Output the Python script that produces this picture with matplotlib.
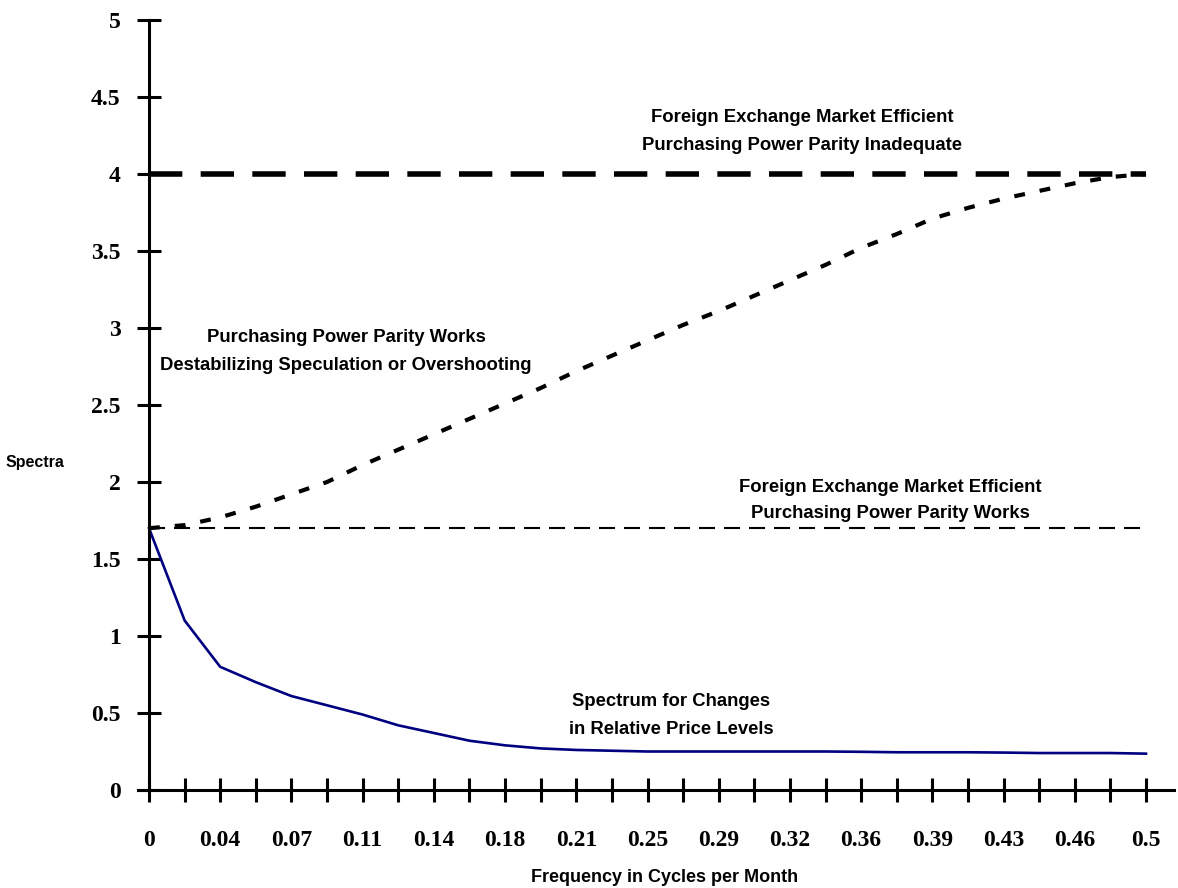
import matplotlib
matplotlib.use("Agg")
import matplotlib.pyplot as plt

# ---- data ----
freq = [0.0, 0.0179, 0.0357, 0.0536, 0.0714, 0.0893, 0.1071, 0.125, 0.1429,
        0.1607, 0.1786, 0.1964, 0.2143, 0.2321, 0.25, 0.2679, 0.2857, 0.3036,
        0.3214, 0.3393, 0.3571, 0.375, 0.3929, 0.4107, 0.4286, 0.4464, 0.4643,
        0.4821, 0.5]
tick_labels = ['0', '', '0.04', '', '0.07', '', '0.11', '', '0.14', '', '0.18', '',
               '0.21', '', '0.25', '', '0.29', '', '0.32', '', '0.36', '', '0.39', '',
               '0.43', '', '0.46', '', '0.5']
relative_price = [1.70, 1.10, 0.80, 0.70, 0.61, 0.55, 0.49, 0.42, 0.37, 0.32, 0.29,
                  0.27, 0.26, 0.255, 0.25, 0.25, 0.25, 0.25, 0.25, 0.25, 0.248,
                  0.245, 0.245, 0.245, 0.243, 0.24, 0.24, 0.24, 0.236]
overshooting = [1.70, 1.72, 1.77, 1.84, 1.92, 2.00, 2.11, 2.21, 2.31, 2.41, 2.51,
                2.61, 2.72, 2.82, 2.92, 3.02, 3.11, 3.21, 3.31, 3.41, 3.52, 3.61,
                3.71, 3.78, 3.84, 3.89, 3.94, 3.98, 4.00]
ppp_works_level = 1.7
ppp_inadequate_level = 4.0
y_ticks = [0, 0.5, 1, 1.5, 2, 2.5, 3, 3.5, 4, 4.5, 5]
y_labels = ['0', '0.5', '1', '1.5', '2', '2.5', '3', '3.5', '4', '4.5', '5']

W, H = 1178, 888
fig = plt.figure(figsize=(W / 100, H / 100), dpi=100)
ppu = 1994.0  # pixels per x unit
left_px, right_px = 137.5, 1174
x0_px = 149
ax = fig.add_axes([left_px / W, (H - 790) / H, (right_px - left_px) / W, 770 / H])
ax.set_xlim(-(x0_px - left_px) / ppu, (right_px - x0_px) / ppu)
ax.set_ylim(0, 5)

# lines
ax.plot([freq[0], freq[-1]], [ppp_inadequate_level] * 2, color='black', lw=4.0,
        linestyle=(0, (6.0, 3.3)), dash_capstyle='butt', zorder=3)
ax.plot([freq[0], freq[-1]], [ppp_works_level] * 2, color='black', lw=1.5,
        linestyle=(0, (7.7, 4.3)), dash_capstyle='butt', zorder=3)
ax.plot(freq, overshooting, color='black', lw=3.0, linestyle=(0, (2.6, 3.6)),
        dash_capstyle='butt', zorder=3)
ax.plot(freq, relative_price, color='#000080', lw=1.9, zorder=4)

# spines
for s in ['top', 'right']:
    ax.spines[s].set_visible(False)
ax.spines['left'].set_position(('data', 0))
ax.spines['left'].set_linewidth(2.2)
ax.spines['bottom'].set_linewidth(2.2)
ax.spines['left'].set_zorder(5)

ax.set_xticks(freq)
ax.set_xticklabels(tick_labels)
ax.set_yticks(y_ticks)
ax.set_yticklabels(y_labels)
ax.tick_params(axis='both', direction='inout', length=17, width=2.2, color='black')
ax.tick_params(axis='x', pad=20)
ax.tick_params(axis='y', pad=12)
for lab in ax.get_xticklabels() + ax.get_yticklabels():
    lab.set_fontfamily('Liberation Serif')
    lab.set_fontweight('bold')
    lab.set_fontsize(17)

def px2data(px, py):
    return (px - x0_px) / ppu, (790 - py) / 154.0

tf = dict(fontfamily='Liberation Sans', fontweight='bold', fontsize=13.3,
          ha='center', va='center', color='black')
annotations = [
    (802, 117, 'Foreign Exchange Market Efficient'),
    (802, 146, 'Purchasing Power Parity Inadequate'),
    (346, 338, 'Purchasing Power Parity Works'),
    (346, 365, 'Destabilizing Speculation or Overshooting'),
    (890, 487, 'Foreign Exchange Market Efficient'),
    (890, 514, 'Purchasing Power Parity Works'),
    (671, 701, 'Spectrum for Changes'),
    (671, 729, 'in Relative Price Levels'),
]
for px, py, t in annotations:
    x, y = px2data(px, py)
    ax.text(x, y, t, **tf)

fig.text(35 / W, 1 - 463 / H, 'Spectra', fontfamily='Liberation Sans',
         fontweight='bold', fontsize=11.5, ha='center', va='center')
fig.text(665 / W, 1 - 877 / H, 'Frequency in Cycles per Month',
         fontfamily='Liberation Sans', fontweight='bold', fontsize=13,
         ha='center', va='center')

fig.savefig('out.png', dpi=100, facecolor='white')
